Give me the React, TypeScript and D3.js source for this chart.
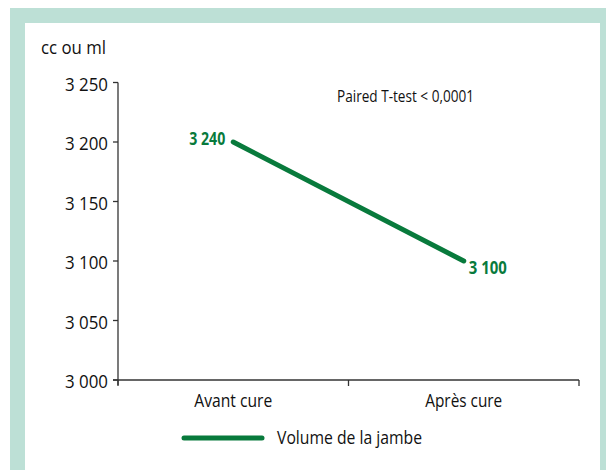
import React from "react";
import * as d3 from "d3";

const categories = ["Avant cure", "Après cure"];
const values = [3200, 3100];
const pointLabels = ["3 240", "3 100"];
const yTicks = [3000, 3050, 3100, 3150, 3200, 3250];
const seriesName = "Volume de la jambe";
const yTitle = "cc ou ml";
const note = "Paired T-test < 0,0001";

const FONT = "'Open Sans', sans-serif";
const GREEN = "#087a3c";
const LA = "spacingAndGlyphs";

export default function App() {
  const W = 606, H = 470;
  const x0 = 118, x1 = 579, yTop = 82.5, yBot = 380;
  const x = d3.scaleBand<string>().domain(categories).range([x0, x1]);
  const y = d3.scaleLinear().domain([3000, 3250]).range([yBot, yTop]);
  const fmt = (v: number) => d3.format(",")(v).replace(",", " ");
  const cx = (i: number) => (x(categories[i]) as number) + x.bandwidth() / 2;
  const line = d3
    .line<number>()
    .x((_, i) => cx(i))
    .y((d) => y(d));
  const bounds = [x0, ...categories.map((c) => (x(c) as number) + x.bandwidth())];
  const catWidths = [78, 77];
  return (
    <svg width={W} height={H} style={{ position: "absolute", left: 0, top: 0 }} fontFamily={FONT}>
      <rect x={10} y={8} width={W} height={H} fill="#bde0d6" />
      <rect x={25} y={23} width={575} height={H} fill="#ffffff" />
      <text x={41} y={54} fontSize={19} fill="#111" textLength={65} lengthAdjust={LA}>{yTitle}</text>
      <text x={337} y={102} fontSize={17} fill="#111" textLength={137} lengthAdjust={LA}>{note}</text>
      {/* y axis */}
      <line x1={x0} x2={x0} y1={y(3250)} y2={yBot + 5} stroke="#333" strokeWidth={1.3} />
      {yTicks.map((t) => (
        <g key={t}>
          <line x1={x0 - 5} x2={x0} y1={y(t)} y2={y(t)} stroke="#333" strokeWidth={1.3} />
          <text x={108} y={y(t) + 8} textAnchor="end" fontSize={18.5} fill="#111" textLength={43} lengthAdjust={LA}>{fmt(t)}</text>
        </g>
      ))}
      {/* x axis */}
      <line x1={x0 - 5} x2={x1} y1={yBot} y2={yBot} stroke="#333" strokeWidth={1.3} />
      {bounds.map((b, i) => (
        <line key={i} x1={b} x2={b} y1={yBot} y2={yBot + 6} stroke="#333" strokeWidth={1.3} />
      ))}
      {categories.map((c, i) => (
        <text key={c} x={cx(i)} y={407} textAnchor="middle" fontSize={19} fill="#111" textLength={catWidths[i]} lengthAdjust={LA}>{c}</text>
      ))}
      <path d={line(values) || ""} fill="none" stroke={GREEN} strokeWidth={5} strokeLinecap="round" />
      <text x={cx(0) - 8} y={y(values[0]) + 3} textAnchor="end" fontSize={17} fontWeight="bold" fill={GREEN} textLength={36} lengthAdjust={LA}>{pointLabels[0]}</text>
      <text x={cx(1) + 5} y={y(values[1]) + 13} textAnchor="start" fontSize={17} fontWeight="bold" fill={GREEN} textLength={38} lengthAdjust={LA}>{pointLabels[1]}</text>
      {/* legend */}
      <line x1={184} x2={262} y1={438} y2={438} stroke={GREEN} strokeWidth={5} strokeLinecap="round" />
      <text x={277} y={444} fontSize={19} fill="#111" textLength={145} lengthAdjust={LA}>{seriesName}</text>
    </svg>
  );
}
